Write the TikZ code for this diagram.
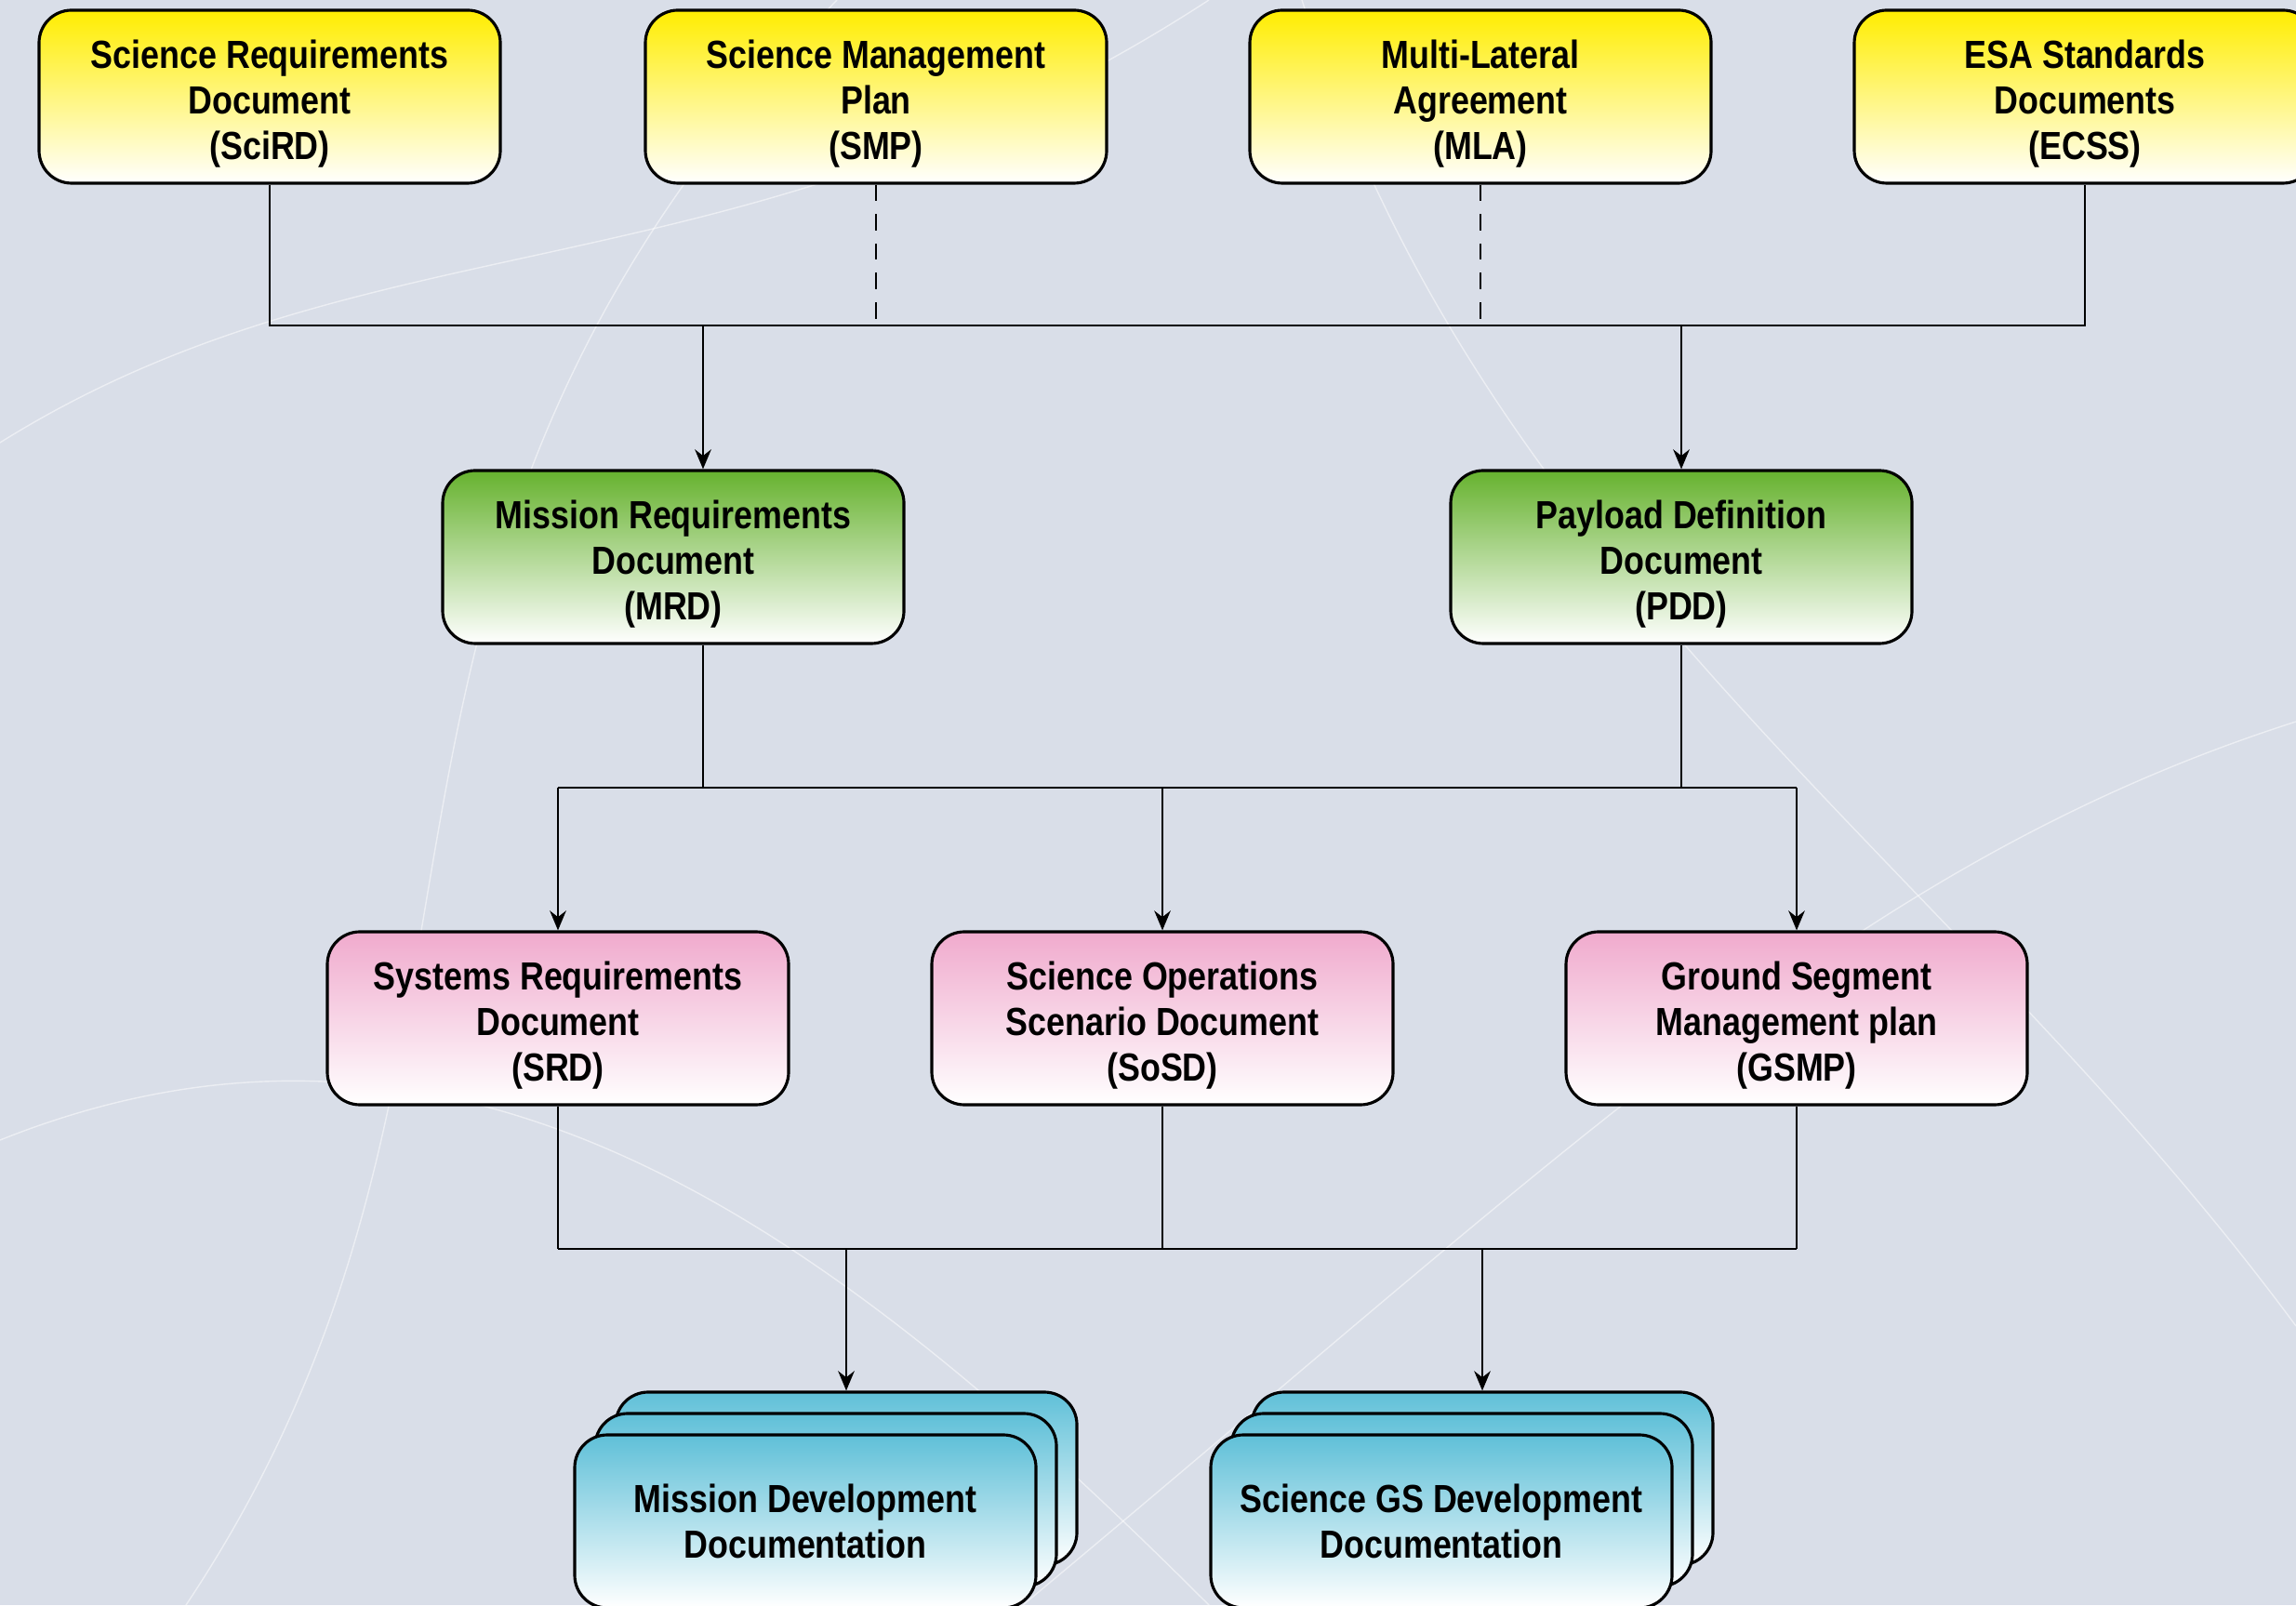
\documentclass[tikz,border=0pt]{standalone}
\usepackage{fontspec}
\setmainfont{Liberation Sans}[FakeStretch=0.85]
\usetikzlibrary{arrows.meta}

\definecolor{bgblue}{HTML}{D9DEE8}
\definecolor{esayellow}{HTML}{FFED00}
\definecolor{esagreen}{HTML}{66B22E}
\definecolor{esapink}{HTML}{F0AACD}
\definecolor{esacyan}{HTML}{5FC0D8}

% lowers a three-line label a little inside its box
\newcommand{\droptext}{\rule{0pt}{13pt}}

\tikzset{
  doc/.style={draw=black, line width=0.9pt, rounded corners=0.35cm,
    minimum width=4.96cm, minimum height=1.86cm, align=center,
    font=\bfseries\fontsize{12}{14}\selectfont, bottom color=white},
  topdoc/.style={doc, top color=esayellow},
  middoc/.style={doc, top color=esagreen},
  lowdoc/.style={doc, top color=esapink},
  devdoc/.style={doc, top color=esacyan},
  link/.style={black, line width=0.7pt},
  flow/.style={link, -{Stealth[length=6pt, width=5pt]}},
  optional/.style={link, dash pattern=on 5pt off 4pt},
}

\begin{document}
\begin{tikzpicture}
    % Background
    \useasboundingbox (0,0) rectangle (24.69,17.26);
    \clip (0,0) rectangle (24.69,17.26);
    \fill[bgblue] (0,0) rectangle (24.69,17.26);
    \draw[white, opacity=0.5, line width=0.4pt] (0,12.5) .. controls (4,15) and (8,14) .. (13,17.26);
    \draw[white, opacity=0.5, line width=0.4pt] (2,0) .. controls (6,6) and (3,11) .. (9,17.26);
    \draw[white, opacity=0.5, line width=0.4pt] (11,0) .. controls (17,5) and (20,8) .. (24.69,9.5);
    \draw[white, opacity=0.5, line width=0.4pt] (14,17.26) .. controls (16,11) and (21,8) .. (24.69,3);
    \draw[white, opacity=0.5, line width=0.4pt] (0,5) .. controls (5,7) and (9,4) .. (13,0);

    % Top row
    \node[topdoc] (scird) at (2.90,16.22) {\droptext Science Requirements\\Document\\(SciRD)};
    \node[topdoc] (smp) at (9.42,16.22) {\droptext Science Management\\Plan\\(SMP)};
    \node[topdoc] (mla) at (15.92,16.22) {\droptext Multi-Lateral\\Agreement\\(MLA)};
    \node[topdoc] (ecss) at (22.42,16.22) {\droptext ESA Standards\\Documents\\(ECSS)};

    % Second row
    \node[middoc] (mrd) at (7.24,11.27) {\droptext Mission Requirements\\Document\\(MRD)};
    \node[middoc] (pdd) at (18.08,11.27) {\droptext Payload Definition\\Document\\(PDD)};

    % Third row
    \node[lowdoc] (srd) at (6.00,6.31) {\droptext Systems Requirements\\Document\\(SRD)};
    \node[lowdoc] (sosd) at (12.50,6.31) {\droptext Science Operations\\Scenario Document\\(SoSD)};
    \node[lowdoc] (gsmp) at (19.32,6.31) {\droptext Ground Segment\\Management plan\\(GSMP)};

    % Bottom stacks
    \foreach \s in {0,1} {
        \node[devdoc] (mdd\s) at ({9.10-0.22*\s},{1.36-0.23*\s}) {};
        \node[devdoc] (gsdd\s) at ({15.94-0.22*\s},{1.36-0.23*\s}) {};
    }
    \node[devdoc] (mdd) at (8.66,0.90) {Mission Development\\Documentation};
    \node[devdoc] (gsdd) at (15.50,0.90) {Science GS Development\\Documentation};

    % Buses
    \coordinate (b1l) at (2.90,13.76);
    \coordinate (b1r) at (22.42,13.76);
    \coordinate (j1) at (7.56,13.76);
    \coordinate (b2l) at (6.00,8.79);
    \coordinate (b2r) at (19.32,8.79);
    \coordinate (b3l) at (6.00,3.83);
    \coordinate (b3r) at (19.32,3.83);

    % Top to second row
    \draw[link] (scird.south) -- (b1l) -- (b1r) -- (ecss.south);
    \draw[optional] (smp.south) -- (smp.south |- b1l);
    \draw[optional] (mla.south) -- (mla.south |- b1l);
    \draw[flow] (j1) -- (j1 |- mrd.north);
    \draw[flow] (pdd.north |- b1l) -- (pdd.north);

    % Second to third row
    \draw[link] (j1 |- mrd.south) -- (j1 |- b2l);
    \draw[link] (pdd.south) -- (pdd.south |- b2l);
    \draw[link] (b2l) -- (b2r);
    \foreach \n in {srd,sosd,gsmp}
        \draw[flow] (\n.north |- b2l) -- (\n.north);

    % Third row to stacks
    \foreach \n in {srd,sosd,gsmp}
        \draw[link] (\n.south) -- (\n.south |- b3l);
    \draw[link] (b3l) -- (b3r);
    \draw[flow] (mdd0.north |- b3l) -- (mdd0.north);
    \draw[flow] (gsdd0.north |- b3l) -- (gsdd0.north);
\end{tikzpicture}
\end{document}
